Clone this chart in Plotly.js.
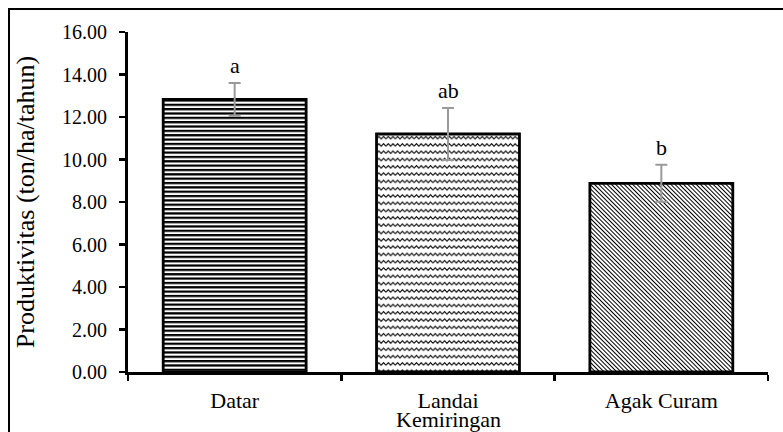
<!DOCTYPE html>
<html>
<head>
<meta charset="utf-8">
<script src="https://cdn.plot.ly/plotly-3.0.1.min.js"></script>
<style>
  html, body { margin: 0; padding: 0; background: #fff; }
  #chart { position: absolute; left: 0; top: 0; width: 783px; height: 432px; }
  #frame { position: absolute; left: 8px; top: 8px; width: 800px; height: 440px;
           border-top: 2px solid #000; border-left: 2px solid #000; pointer-events: none; }
</style>
</head>
<body>
<div id="chart"></div>
<div id="frame"></div>
<script>
// Data
const categories = ["Datar", "Landai", "Agak Curam"];
const productivity = [12.83, 11.20, 8.88];
const stdError = [0.77, 1.22, 0.87];
const letters = ["a", "ab", "b"];
const fills = ["hlines", "wave", "diag"];
const yTicks = [0, 2, 4, 6, 8, 10, 12, 14, 16];
const yTickText = ["0.00", "2.00", "4.00", "6.00", "8.00", "10.00", "12.00", "14.00", "16.00"];

const serif = "Liberation Serif";
const barWidth = 0.67;

// hatch fills drawn as svg pattern images placed in data coordinates
const patternDefs = {
  hlines: '<pattern id="p" width="10" height="4.35" patternUnits="userSpaceOnUse">' +
          '<rect x="0" y="0" width="10" height="2.25" fill="#000"/></pattern>',
  wave:   '<pattern id="p" width="9.4" height="7.3" patternUnits="userSpaceOnUse">' +
          '<path d="M0,5 L2.35,2.3 L4.7,5 L7.05,2.3 L9.4,5" fill="none" stroke="#000" stroke-width="1.05"/></pattern>',
  diag:   '<pattern id="p" width="10" height="3.0" patternUnits="userSpaceOnUse" patternTransform="rotate(45)">' +
          '<rect x="0" y="0" width="10" height="1.0" fill="#000"/></pattern>'
};
function patternSvg(kind, wPx, hPx) {
  const svg = '<svg xmlns="http://www.w3.org/2000/svg" width="' + wPx + '" height="' + hPx + '">' +
    '<defs>' + patternDefs[kind] + '</defs><rect width="100%" height="100%" fill="#fff"/>' +
    '<rect width="100%" height="100%" fill="url(#p)"/></svg>';
  return "data:image/svg+xml;base64," + btoa(svg);
}

const pxPerUnitY = (432 - 32 - 60) / 16;
const pxPerCat = (783 - 128 - 15) / 3;

const images = categories.map((c, i) => ({
  source: patternSvg(fills[i], Math.round(barWidth * pxPerCat), Math.round(productivity[i] * pxPerUnitY)),
  xref: "x", yref: "y",
  x: i - barWidth / 2, y: productivity[i],
  sizex: barWidth, sizey: productivity[i],
  xanchor: "left", yanchor: "top",
  sizing: "stretch", layer: "below"
}));

const barTrace = {
  type: "bar",
  x: categories,
  y: productivity,
  width: barWidth,
  marker: {
    color: "rgba(0,0,0,0)",
    line: { color: "#000", width: 2.8 }
  },
  error_y: {
    type: "data", array: stdError, visible: true,
    color: "#9a9a9a", thickness: 2, width: 6
  },
  hoverinfo: "skip"
};

const letterAnnotations = categories.map((c, i) => ({
  x: c, y: productivity[i] + stdError[i],
  xref: "x", yref: "y",
  text: letters[i], showarrow: false,
  yanchor: "bottom", yshift: 3,
  font: { family: serif, size: 22, color: "#000" }
}));

const layout = {
  width: 783, height: 432,
  margin: { l: 128, r: 15, t: 32, b: 60 },
  paper_bgcolor: "rgba(0,0,0,0)",
  plot_bgcolor: "rgba(0,0,0,0)",
  showlegend: false,
  font: { family: serif, color: "#000" },
  images: images,
  annotations: letterAnnotations.concat([{
    text: "Kemiringan", showarrow: false,
    xref: "paper", yref: "paper", x: 0.5, y: 0,
    xanchor: "center", yanchor: "middle", yshift: -47,
    font: { family: serif, size: 22, color: "#000" }
  }]),
  xaxis: {
    type: "category",
    range: [-0.5, 2.5],
    tickson: "boundaries",
    ticks: "outside", ticklen: 6, tickwidth: 2.5, tickcolor: "#000",
    ticklabelstandoff: 7,
    showline: true, linecolor: "#000", linewidth: 3,
    showgrid: false, zeroline: false,
    tickfont: { family: serif, size: 22, color: "#000" },
    fixedrange: true
  },
  yaxis: {
    range: [0, 16],
    tickvals: yTicks, ticktext: yTickText,
    ticks: "outside", ticklen: 6, tickwidth: 2.5, tickcolor: "#000",
    ticklabelstandoff: 8,
    showline: true, linecolor: "#000", linewidth: 3,
    showgrid: false, zeroline: false,
    tickfont: { family: serif, size: 20, color: "#000" },
    title: { text: "Produktivitas (ton/ha/tahun)", font: { family: serif, size: 26, color: "#000" }, standoff: 20 },
    fixedrange: true
  }
};

Plotly.newPlot("chart", [barTrace], layout, { staticPlot: true, displayModeBar: false });
</script>
</body>
</html>
